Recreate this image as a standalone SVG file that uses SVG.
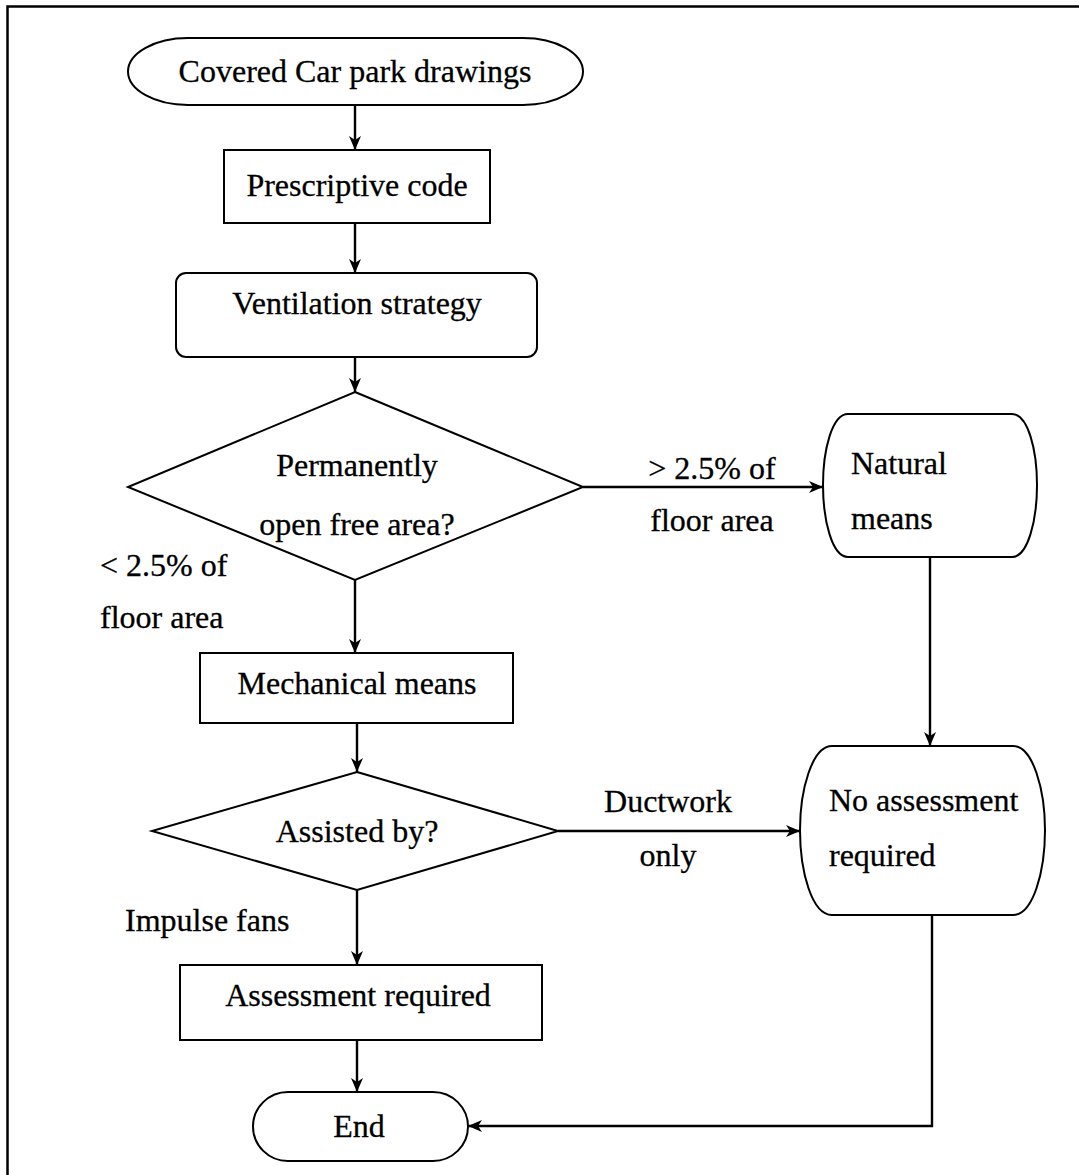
<svg xmlns="http://www.w3.org/2000/svg" width="1079" height="1175" viewBox="0 0 1079 1175">
  <defs>
    <marker id="arrow" viewBox="0 0 14 12" refX="14" refY="6" markerWidth="14" markerHeight="12" markerUnits="userSpaceOnUse" orient="auto">
      <path d="M0,0 L14,6 L0,12 L4,6 Z" fill="#000"/>
    </marker>
  </defs>
  <style>
    .shape { fill: #fff; stroke: #000; stroke-width: 2; }
    .conn { fill: none; stroke: #000; stroke-width: 2.4; }
    text { font-family: "Liberation Serif", "Times New Roman", serif; font-size: 32px; fill: #000; stroke: #000; stroke-width: 0.3; }
    .c { text-anchor: middle; }
  </style>

  <rect x="0" y="0" width="1079" height="1175" fill="#fff"/>
  <!-- outer frame -->
  <path d="M1079,6.5 H7.5 V1175" fill="none" stroke="#000" stroke-width="2.5"/>

  <g id="start">
    <rect class="shape" x="128" y="38" width="455" height="67" rx="60" ry="33.5"/>
    <text class="c" x="355" y="82">Covered Car park drawings</text>
  </g>

  <g id="prescriptive">
    <rect class="shape" x="224" y="150" width="266" height="73"/>
    <text class="c" x="357" y="196">Prescriptive code</text>
  </g>

  <g id="ventilation">
    <rect class="shape" x="176" y="273" width="361" height="84" rx="10" ry="10"/>
    <text class="c" x="357" y="314">Ventilation strategy</text>
  </g>

  <g id="open-area">
    <polygon class="shape" points="355,392 583,487 355,580 128,487"/>
    <text class="c" x="357" y="476">Permanently</text>
    <text class="c" x="357" y="535">open free area?</text>
  </g>

  <g id="natural">
    <path class="shape" d="M848,414 H1012 C1028,414 1037,450 1037,485 C1037,520 1028,557 1012,557 H848 C832,557 823,520 823,485 C823,450 832,414 848,414 Z"/>
    <text x="851" y="474">Natural</text>
    <text x="851" y="529">means</text>
  </g>

  <g id="mechanical">
    <rect class="shape" x="200" y="653" width="313" height="70"/>
    <text class="c" x="357" y="694">Mechanical means</text>
  </g>

  <g id="assisted">
    <polygon class="shape" points="357,772 558,831 357,890 152,831"/>
    <text class="c" x="357" y="842">Assisted by?</text>
  </g>

  <g id="no-assessment">
    <path class="shape" d="M832,746 H1013 C1033,746 1045,790 1045,830 C1045,872 1033,915 1013,915 H832 C812,915 800,872 800,830 C800,790 812,746 832,746 Z"/>
    <text x="829" y="811">No assessment</text>
    <text x="829" y="866">required</text>
  </g>

  <g id="assessment">
    <rect class="shape" x="180" y="965" width="362" height="75"/>
    <text class="c" x="358" y="1006">Assessment required</text>
  </g>

  <g id="end">
    <rect class="shape" x="253" y="1092" width="215" height="69" rx="35" ry="34.5"/>
    <text class="c" x="359" y="1137">End</text>
  </g>

  <g id="connectors">
    <line class="conn" x1="355" y1="105" x2="355" y2="150" marker-end="url(#arrow)"/>
    <line class="conn" x1="355" y1="223" x2="355" y2="273" marker-end="url(#arrow)"/>
    <line class="conn" x1="355" y1="357" x2="355" y2="392" marker-end="url(#arrow)"/>
    <line class="conn" x1="583" y1="487" x2="823" y2="487" marker-end="url(#arrow)"/>
    <line class="conn" x1="355" y1="580" x2="355" y2="653" marker-end="url(#arrow)"/>
    <line class="conn" x1="930" y1="557" x2="930" y2="746" marker-end="url(#arrow)"/>
    <line class="conn" x1="357" y1="723" x2="357" y2="772" marker-end="url(#arrow)"/>
    <line class="conn" x1="558" y1="831" x2="800" y2="831" marker-end="url(#arrow)"/>
    <line class="conn" x1="357" y1="890" x2="357" y2="965" marker-end="url(#arrow)"/>
    <line class="conn" x1="357" y1="1040" x2="357" y2="1092" marker-end="url(#arrow)"/>
    <polyline class="conn" points="932,915 932,1126 468,1126" marker-end="url(#arrow)"/>

    <text class="c" x="712" y="479">&gt; 2.5% of</text>
    <text class="c" x="712" y="531">floor area</text>
    <text x="100" y="576">&lt; 2.5% of</text>
    <text x="100" y="628">floor area</text>
    <text class="c" x="668" y="812">Ductwork</text>
    <text class="c" x="668" y="866">only</text>
    <text x="125" y="931">Impulse fans</text>
  </g>
</svg>
